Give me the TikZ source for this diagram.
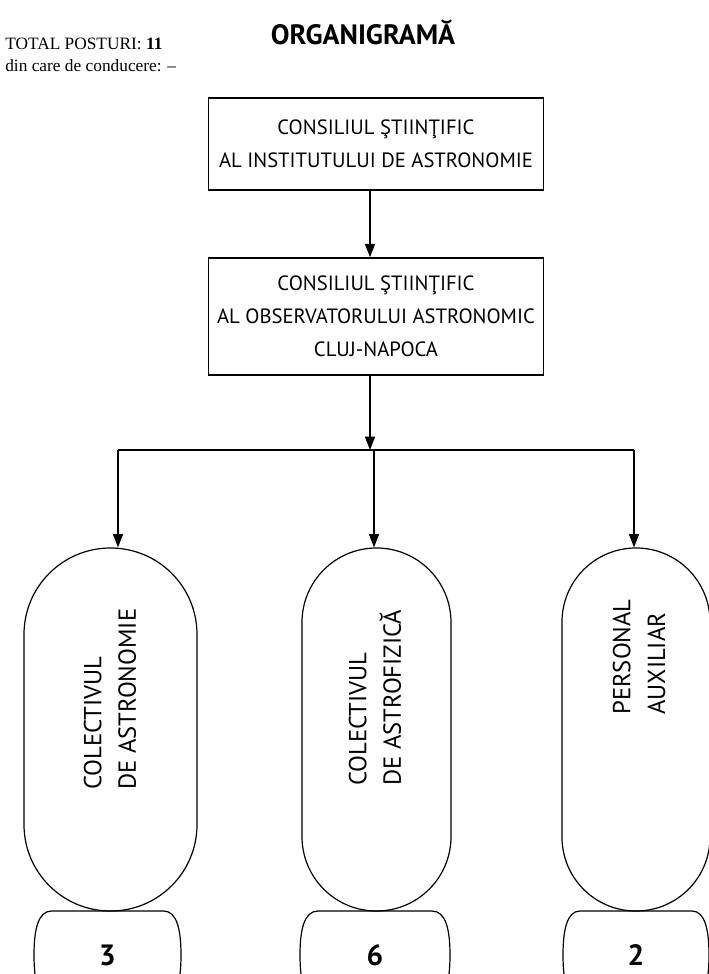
\documentclass[tikz,border=0pt]{standalone}
\usepackage{fontspec}
\setmainfont{Liberation Serif}
\newfontfamily\orgfont{PT Sans}
\usetikzlibrary{positioning,calc,arrows.meta}

\tikzset{
  unitbox/.style={draw, line width=1.1pt, minimum width=251.25pt, align=center,
    inner sep=0pt, font=\orgfont\fontsize{15.5}{24.75}\selectfont},
  pillbox/.style={draw, line width=0.9pt, minimum height=272.25pt, inner sep=0pt},
  pilltext/.style={rotate=90, anchor=west, align=left, inner sep=0pt,
    font=\orgfont\fontsize{18.5}{26}\selectfont},
  numtext/.style={inner sep=0pt, font=\orgfont\bfseries\fontsize{22}{22}\selectfont},
  link/.style={line width=1.1pt, -{Triangle[length=10pt,width=7.5pt]}},
  bar/.style={line width=1.1pt}
}

\begin{document}
\begin{tikzpicture}[x=0.75pt,y=-0.75pt]
    \useasboundingbox (0,0) rectangle (709,974);

    % header
    \node[font=\orgfont\bfseries\fontsize{21}{21}\selectfont] (title) at (363,32) {ORGANIGRAMĂ};
    \node[anchor=base west, inner sep=0pt, font=\fontsize{13}{13}\selectfont] (total) at (5,50) {TOTAL POSTURI: \textbf{11}};
    \node[anchor=base west, inner sep=0pt, font=\fontsize{13}{13}\selectfont] (lead) at (5,72) {din care de conducere: --};

    % councils
    \node[unitbox, minimum height=69pt] (inst) at (376,144) {CONSILIUL ŞTIINŢIFIC\\AL INSTITUTULUI DE ASTRONOMIE};
    \node[unitbox, minimum height=87.75pt] (obs) at (376,316.5) {CONSILIUL ŞTIINŢIFIC\\AL OBSERVATORULUI ASTRONOMIC\\CLUJ-NAPOCA};
    \draw[link] ([xshift=-4.5pt]inst.south) -- ([xshift=-4.5pt]obs.north);

    % groups
    \node[pillbox, minimum width=129.75pt, rounded corners=64.8pt] (pillA) at (110.5,729.5) {};
    \node[pillbox, minimum width=111.75pt, rounded corners=55.8pt] (pillB) at (376.5,729.5) {};
    \node[pillbox, minimum width=111pt, rounded corners=55.4pt] (pillC) at (636,729.5) {};

    \node[pilltext] (txtA) at (110,790) {COLECTIVUL\\DE ASTRONOMIE};
    \node[pilltext] (txtB) at (375,786) {COLECTIVUL\\DE ASTROFIZICĂ};
    \node[pilltext] (txtC) at (639,715) {PERSONAL\\AUXILIAR};

    % distribution
    \coordinate (split) at ([xshift=-4.5pt]obs.south |- 0,450);
    \coordinate (jA) at (118,450);
    \coordinate (jB) at (374,450);
    \coordinate (jC) at (634,450);
    \draw[link] ([xshift=-4.5pt]obs.south) -- (split);
    \draw[bar] (jA) -- (jC);
    \draw[link] (jA) -- (jA |- pillA.north);
    \draw[link] (jB) -- (jB |- pillB.north);
    \draw[link] (jC) -- (jC |- pillC.north);

    % head counts
    \foreach \i/\cx/\t/\w/\n in {A/107.5/56/73.5/3, B/375/57/75/6, C/636/56/73/2} {
        \node[numtext] (num\i) at (\cx,955) {\n};
        \draw[line width=0.9pt] (\cx-\t,911) -- (\cx+\t,911)
            .. controls (\cx+\w-4,911) and (\cx+\w,930) .. (\cx+\w,955)
            .. controls (\cx+\w,980) and (\cx+\w-4,999) .. (\cx+\t,999)
            -- (\cx-\t,999)
            .. controls (\cx-\w+4,999) and (\cx-\w,980) .. (\cx-\w,955)
            .. controls (\cx-\w,930) and (\cx-\w+4,911) .. cycle;
    }
\end{tikzpicture}
\end{document}
